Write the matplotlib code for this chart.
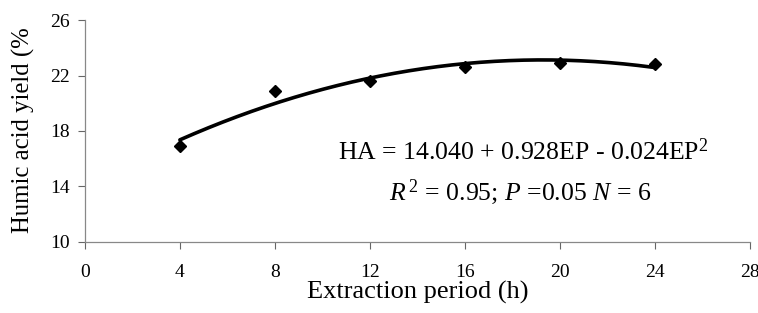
import numpy as np
import matplotlib
matplotlib.use("Agg")
import matplotlib.pyplot as plt

# Extraction period (h) and humic acid yield (%)
period = [4, 8, 12, 16, 20, 24]
yield_pct = [16.9, 20.9, 21.6, 22.6, 22.9, 22.8]

x_ticks = [0, 4, 8, 12, 16, 20, 24, 28]
y_ticks = [10, 14, 18, 22, 26]

plt.rcParams['font.family'] = ['Liberation Serif', 'DejaVu Serif']
plt.rcParams['mathtext.fontset'] = 'custom'
plt.rcParams['mathtext.rm'] = 'Liberation Serif'
plt.rcParams['mathtext.it'] = 'Liberation Serif:italic'

fig = plt.figure(figsize=(7.58, 3.13), dpi=100)
ax = fig.add_axes([0.112, 0.227, 0.877, 0.709])

# second order trend line, as in the original
coef = np.polyfit(period, yield_pct, 2)
xs = np.linspace(period[0], period[-1], 200)
ax.plot(xs, np.polyval(coef, xs), color='black', lw=2.6, solid_capstyle='round')
ax.plot(period, yield_pct, 'D', color='black', ms=6.5)

ax.set_xlim(0, 28)
ax.set_ylim(10, 26)
ax.set_xticks(x_ticks)
ax.set_yticks(y_ticks)
ax.tick_params(labelsize=14, direction='out', length=5, width=0.8, color='#666666')
ax.tick_params(axis='x', pad=11)
ax.tick_params(axis='y', pad=6)

for s in ['top', 'right']:
    ax.spines[s].set_visible(False)
for s in ['left', 'bottom']:
    ax.spines[s].set_color('#888888')
    ax.spines[s].set_linewidth(0.9)

ax.set_xlabel('Extraction period (h)', fontsize=19, labelpad=0)
fig.text(0.031, 0.585, 'Humic acid yield (%', rotation=90, fontsize=17.8,
         ha='center', va='center')

ax.text(0.66, 0.405, 'HA = 14.040 + 0.928EP - 0.024EP$^2$', transform=ax.transAxes,
        fontsize=18.5, ha='center', va='center')
ax.text(0.655, 0.225, '$R^{\\,2}$ = 0.95; $P$ =0.05 $N$ = 6', transform=ax.transAxes,
        fontsize=18.5, ha='center', va='center')

fig.savefig('out.png', dpi=100)
